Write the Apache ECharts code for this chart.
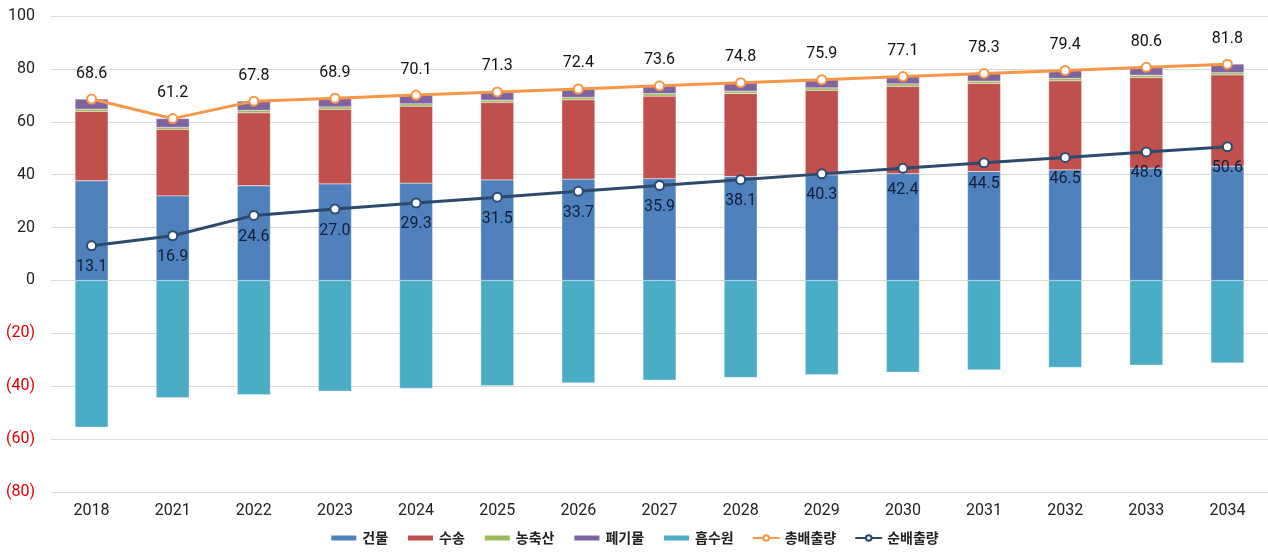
<!DOCTYPE html>
<html><head><meta charset="utf-8">
<script src="https://cdn.jsdelivr.net/npm/echarts@6/dist/echarts.min.js"></script>
<style>html,body{margin:0;padding:0;background:#fff}#c{width:1268px;height:552px}</style>
</head><body><div id="c"></div>
<script>
const categories = ['2018','2021','2022','2023','2024','2025','2026','2027','2028','2029','2030','2031','2032','2033','2034'];
const building  = [37.7, 32.0, 35.8, 36.5, 36.8, 38.0, 38.3, 38.5, 39.3, 39.9, 40.4, 41.2, 41.8, 42.5, 43.2];
const transport = [26.2, 25.1, 27.6, 28.2, 29.1, 29.3, 30.0, 31.2, 31.4, 32.0, 33.0, 33.3, 33.7, 34.2, 34.5];
const agri      = [0.9, 0.8, 0.9, 0.9, 0.9, 0.9, 0.9, 0.9, 0.9, 0.9, 0.9, 0.9, 0.9, 0.9, 0.9];
const waste     = [3.8, 3.3, 3.5, 3.3, 3.3, 3.1, 3.2, 3.0, 3.2, 3.1, 2.8, 2.9, 3.0, 3.0, 3.2];
const sink      = [-55.5, -44.3, -43.2, -41.9, -40.8, -39.8, -38.7, -37.7, -36.7, -35.6, -34.7, -33.8, -32.9, -32.0, -31.2];
const totalEmission = [68.6, 61.2, 67.8, 68.9, 70.1, 71.3, 72.4, 73.6, 74.8, 75.9, 77.1, 78.3, 79.4, 80.6, 81.8];
const netEmission   = [13.1, 16.9, 24.6, 27.0, 29.3, 31.5, 33.7, 35.9, 38.1, 40.3, 42.4, 44.5, 46.5, 48.6, 50.6];

const numFont = 'Roboto, Arial, "Liberation Sans", sans-serif';
const krFont = '"Noto Sans CJK KR", "Noto Sans", sans-serif';
const chart = echarts.init(document.getElementById('c'));
function bar(name, data, color) {
  return { name, type: 'bar', stack: 'a', data, barWidth: 33,
    itemStyle: { color, borderColor: '#fff', borderWidth: 0.3 } };
}
chart.setOption({
  animation: false,
  grid: { left: 51, right: 0, top: 16, bottom: 60 },
  legend: {
    bottom: 2, left: 'center', itemWidth: 27, itemHeight: 7, itemGap: 18,
    textStyle: { fontFamily: krFont, fontSize: 14, fontWeight: 'bold', color: '#222' },
    data: [
      { name: '건물', icon: 'rect' }, { name: '수송', icon: 'rect' }, { name: '농축산', icon: 'rect' },
      { name: '폐기물', icon: 'rect' }, { name: '흡수원', icon: 'rect' }, '총배출량', '순배출량'
    ]
  },
  xAxis: {
    type: 'category', data: categories,
    axisLine: { show: false }, axisTick: { show: false },
    axisLabel: { fontFamily: numFont, fontSize: 16, color: '#222', margin: 11 }
  },
  yAxis: {
    type: 'value', min: -80, max: 100, interval: 20,
    splitLine: { lineStyle: { color: '#d9d9d9', width: 1 } },
    axisLabel: {
      fontFamily: numFont, fontSize: 16, margin: 16,
      formatter: v => v < 0 ? '{n|(' + (-v) + ')}' : '{p|' + v + '}',
      rich: { n: { color: '#e00000', fontFamily: numFont, fontSize: 16 }, p: { color: '#222', fontFamily: numFont, fontSize: 16 } }
    }
  },
  series: [
    bar('건물', building, '#4f81bd'),
    bar('수송', transport, '#c0504d'),
    bar('농축산', agri, '#9bbb59'),
    bar('폐기물', waste, '#8064a2'),
    bar('흡수원', sink, '#4bacc6'),
    { name: '총배출량', type: 'line', data: totalEmission, z: 5,
      lineStyle: { color: '#f79646', width: 3 }, itemStyle: { color: '#fff', borderColor: '#f79646', borderWidth: 2 },
      symbol: 'circle', symbolSize: 9,
      label: { show: true, position: 'top', distance: 12, fontFamily: numFont, fontSize: 16, color: '#111', formatter: p => p.value.toFixed(1) } },
    { name: '순배출량', type: 'line', data: netEmission, z: 5,
      lineStyle: { color: '#2c4a6e', width: 3 }, itemStyle: { color: '#fff', borderColor: '#2c4a6e', borderWidth: 2 },
      symbol: 'circle', symbolSize: 9,
      label: { show: true, position: 'bottom', distance: 8, fontFamily: numFont, fontSize: 16, color: '#0d1f3a', formatter: p => p.value.toFixed(1) } }
  ]
});
</script></body></html>
